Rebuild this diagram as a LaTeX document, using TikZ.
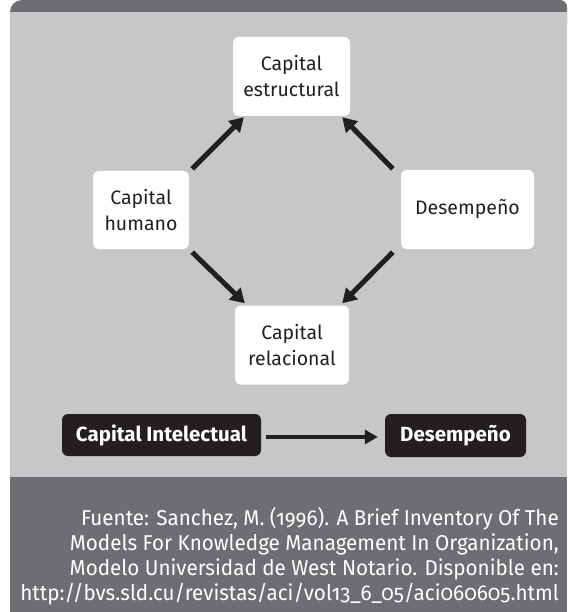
\documentclass[tikz,border=0pt]{standalone}
\usepackage{fontspec}
\setmainfont{Fira Sans}[Numbers=OldStyle]
\newfontfamily\footfont{Fira Sans}[Numbers=OldStyle, FakeStretch=0.96]
\usetikzlibrary{arrows.meta,calc}
\definecolor{lightbg}{HTML}{C6C7C8}
\definecolor{darkbg}{HTML}{6D6E71}
\definecolor{ink}{HTML}{231F20}
\tikzset{
  whitebox/.style={fill=white, rounded corners=6pt, text=ink, align=center,
    font=\fontsize{19.5}{26}\selectfont, inner sep=0pt},
  blackbox/.style={fill=ink, rounded corners=6pt, text=white, align=center,
    font=\fontsize{20.5}{24}\selectfont\bfseries, inner sep=0pt},
  diag/.style={line width=5pt, draw=ink, -{Triangle[length=14pt,width=16pt]}},
  straight/.style={line width=3.5pt, draw=ink, -{Triangle[length=13pt,width=14pt]}}
}
\begin{document}
\begin{tikzpicture}[x=1pt,y=-1pt]
\useasboundingbox (0,0) rectangle (567,612);
\fill[white] (0,0) rectangle (567,612);
% top strip
\fill[darkbg] (10,24) [rounded corners=12pt] -- (10,0) [rounded corners=7pt] -- (567,0) [sharp corners] -- (567,24) -- cycle;
\fill[lightbg] (10,12) rectangle (567,477);
\fill[darkbg] (10,477) rectangle (567,612);
% nodes
\node[whitebox, minimum width=117pt, minimum height=79pt] (est) at (291.5,76.5) {Capital\\estructural};
\node[whitebox, minimum width=96pt, minimum height=78pt] (hum) at (141,210) {Capital\\humano};
\node[whitebox, minimum width=133pt, minimum height=79pt] (des) at (467.5,209.5) {Desempeño};
\node[whitebox, minimum width=114pt, minimum height=79pt] (rel) at (292,345) {Capital\\relacional};
% arrows
\draw[diag] ($(hum.north east)+(3,-2)$) -- ($(est.south west)+(11,1)$);
\draw[diag] ($(des.north west)+(-8,-1)$) -- ($(est.south east)+(-8,1)$);
\draw[diag] ($(hum.south east)+(3,3)$) -- ($(rel.north west)+(10,-2)$);
\draw[diag] ($(des.south west)+(-8,3)$) -- ($(rel.north east)+(-7,-2)$);
% bottom row
\node[blackbox, minimum width=199pt, minimum height=42pt] (ci) at (161.5,435) {Capital Intelectual};
\node[blackbox, minimum width=141pt, minimum height=43pt] (d2) at (455.5,435.5) {Desempeño};
\draw[straight] ($(ci.east)+(5,2)$) -- ($(d2.west)+(-7,1.5)$);
% footer
\node[anchor=east, align=right, text=white, inner sep=0pt,
  font=\footfont\fontsize{21.5}{25}\selectfont] (src) at (559,556)
  {Fuente: Sanchez, M. (1996). A Brief Inventory Of The\\
   Models For Knowledge Management In Organization,\\
   Modelo Universidad de West Notario. Disponible en:\\
   http://bvs.sld.cu/revistas/aci/vol13\_6\_05/aci060605.html};
\end{tikzpicture}
\end{document}
